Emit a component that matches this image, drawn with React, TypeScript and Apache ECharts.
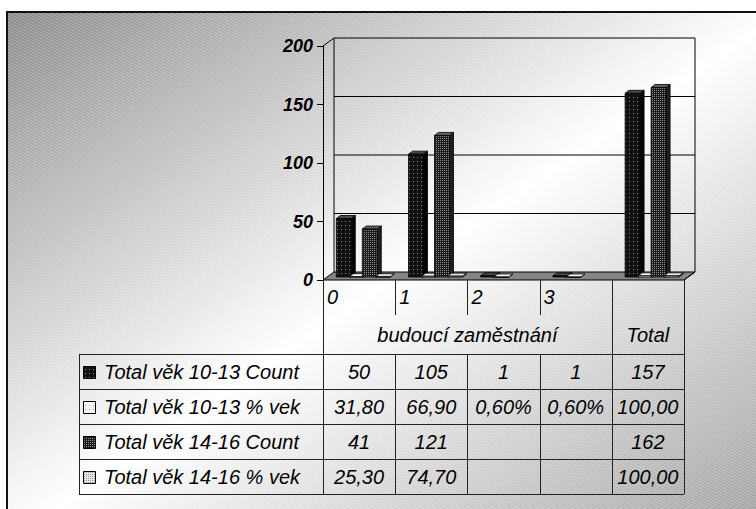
import React, { useEffect, useRef } from "react";
import * as echarts from "echarts";

// ---------- data ----------
const categories = ["0", "1", "2", "3", "Total"];
const groupLabel = "budoucí zaměstnání";
const seriesNames = [
  "Total věk 10-13 Count",
  "Total věk 10-13 % vek",
  "Total věk 14-16 Count",
  "Total věk 14-16 % vek",
];
const count1013 = [50, 105, 1, 1, 157];
const pct1013 = [0.318, 0.669, 0.006, 0.006, 1.0];
const count1416 = [41, 121, null, null, 162];
const pct1416 = [0.253, 0.747, null, null, 1.0];
const count1013Labels = ["50", "105", "1", "1", "157"];
const pct1013Labels = ["31,80", "66,90", "0,60%", "0,60%", "100,00"];
const count1416Labels = ["41", "121", "", "", "162"];
const pct1416Labels = ["25,30", "74,70", "", "", "100,00"];
const yTicks = [0, 50, 100, 150, 200];

// ---------- layout / style ----------
const W = 756;
const H = 509;
const GRID_LEFT = 323;
const GRID_TOP = 46;
const GRID_W = 361;
const GRID_H = 234;
const GRID_RIGHT = GRID_LEFT + GRID_W;
const FLOOR_Y = GRID_TOP + GRID_H;
const DX = 11;
const DY = -8;
const BAR_W = 15;
const BAR_DX = 4;
const BAR_DY = -3;
const BAR_SHIFT_Y = -3;
const SLOT_OFFSETS = [13.3, 26.3, 39.3, 52.3];
const TABLE_LEFT = 79;
const TABLE_TOP = 354;
const ROW_H = 35;
const HEADER_SPLIT = 315;
const FONT = '"Liberation Sans", Arial, sans-serif';

type PatDef = { bg: string; fg: string; size: number; dots: number[][] };
const patternDefs: PatDef[] = [
  { bg: "#111111", fg: "#8a8a8a", size: 4, dots: [[1, 1]] },
  { bg: "#f4f4f4", fg: "#9a9a9a", size: 4, dots: [[1, 1]] },
  { bg: "#1c1c1c", fg: "#8c8c8c", size: 2, dots: [[0, 0]] },
  { bg: "#e6e6e6", fg: "#9a9a9a", size: 2, dots: [[0, 0]] },
];
const barStyles = [
  { front: "#1e1e1e", top: "#4a4a4a", side: "#050505" },
  { front: "#ececec", top: "#f6f6f6", side: "#bdbdbd" },
  { front: "#3b3b3b", top: "#626262", side: "#1e1e1e" },
  { front: "#d6d6d6", top: "#e8e8e8", side: "#a8a8a8" },
];

const seriesValues = [count1013, pct1013, count1416, pct1416];
const rowLabels = [count1013Labels, pct1013Labels, count1416Labels, pct1416Labels];

function makePattern(def: PatDef): any {
  const c = document.createElement("canvas");
  c.width = def.size;
  c.height = def.size;
  const ctx = c.getContext("2d");
  if (!ctx) return def.bg;
  ctx.fillStyle = def.bg;
  ctx.fillRect(0, 0, def.size, def.size);
  ctx.fillStyle = def.fg;
  def.dots.forEach(([x, y]) => ctx.fillRect(x, y, 1, 1));
  return { image: c, repeat: "repeat", imageWidth: def.size, imageHeight: def.size };
}

function makeHatch(): any {
  const c = document.createElement("canvas");
  c.width = 6;
  c.height = 3;
  const ctx = c.getContext("2d");
  if (!ctx) return "rgba(255,255,255,0)";
  ctx.fillStyle = "rgba(255,255,255,0.22)";
  [[0, 0], [1, 0], [2, 1], [3, 1], [4, 2], [5, 2]].forEach(([x, y]) => ctx.fillRect(x, y, 1, 1));
  return { image: c, repeat: "repeat", imageWidth: 6, imageHeight: 3 };
}

export default function App() {
  const ref = useRef<HTMLDivElement>(null);

  useEffect(() => {
    if (!ref.current) return;
    const chart = echarts.init(ref.current, undefined, { renderer: "svg" });

    const patterns = patternDefs.map(makePattern);
    const colW = GRID_W / categories.length;
    const colX = categories.map((_, i) => GRID_LEFT + i * colW);
    const tableBottom = TABLE_TOP + ROW_H * seriesNames.length;
    const lineStyle = { stroke: "#222", lineWidth: 1 };
    const textBase = {
      fill: "#000",
      fontFamily: FONT,
      fontStyle: "italic",
      fontSize: 20,
    };

    const graphics: any[] = [];
    // background
    graphics.push({
      type: "rect",
      z: -100,
      shape: { x: 7, y: 12, width: W + 20, height: H + 20 },
      style: {
        fill: new echarts.graphic.LinearGradient(0, 0, 1, 1, [
          { offset: 0, color: "#8c8c8c" },
          { offset: 0.5, color: "#ffffff" },
          { offset: 1, color: "#9c9c9c" },
        ]),
        stroke: "#111",
        lineWidth: 2,
      },
    });
    graphics.push({
      type: "rect",
      z: -99,
      silent: true,
      shape: { x: 8, y: 13, width: W, height: H },
      style: { fill: makeHatch() },
    });

    const hline = (x1: number, x2: number, y: number) =>
      graphics.push({
        type: "line",
        z: 10,
        shape: { x1, y1: Math.round(y) + 0.5, x2, y2: Math.round(y) + 0.5 },
        style: lineStyle,
      });
    const vline = (x: number, y1: number, y2: number) =>
      graphics.push({
        type: "line",
        z: 10,
        shape: { x1: Math.round(x) + 0.5, y1, x2: Math.round(x) + 0.5, y2 },
        style: lineStyle,
      });

    // table grid
    for (let r = 0; r <= seriesNames.length; r++) {
      hline(TABLE_LEFT, GRID_RIGHT, TABLE_TOP + r * ROW_H);
    }
    vline(TABLE_LEFT, TABLE_TOP, tableBottom);
    vline(GRID_LEFT, FLOOR_Y, tableBottom);
    vline(colX[4], FLOOR_Y, tableBottom);
    vline(GRID_RIGHT, FLOOR_Y, tableBottom);
    for (let i = 1; i < 4; i++) {
      vline(colX[i], FLOOR_Y, HEADER_SPLIT);
      vline(colX[i], TABLE_TOP, tableBottom);
    }

    // header texts
    for (let i = 0; i < 4; i++) {
      graphics.push({
        type: "text",
        z: 11,
        style: {
          ...textBase,
          text: categories[i],
          x: colX[i] + 4,
          y: 297,
          align: "left",
          verticalAlign: "middle",
        },
      });
    }
    const headerY = (HEADER_SPLIT + TABLE_TOP) / 2;
    graphics.push({
      type: "text",
      z: 11,
      style: {
        ...textBase,
        text: groupLabel,
        x: (colX[0] + colX[4]) / 2,
        y: headerY,
        align: "center",
        verticalAlign: "middle",
      },
    });
    graphics.push({
      type: "text",
      z: 11,
      style: {
        ...textBase,
        text: categories[4],
        x: (colX[4] + GRID_RIGHT) / 2,
        y: headerY,
        align: "center",
        verticalAlign: "middle",
      },
    });

    // rows
    seriesNames.forEach((name, r) => {
      const cy = TABLE_TOP + ROW_H * (r + 0.5);
      graphics.push({
        type: "rect",
        z: 11,
        shape: { x: 83.5, y: Math.round(cy - 6) + 0.5, width: 12, height: 12 },
        style: { fill: patterns[r], stroke: "#000", lineWidth: 1 },
      });
      graphics.push({
        type: "text",
        z: 11,
        style: {
          ...textBase,
          text: name,
          x: 104,
          y: cy,
          align: "left",
          verticalAlign: "middle",
        },
      });
      rowLabels[r].forEach((lab, i) => {
        if (!lab) return;
        graphics.push({
          type: "text",
          z: 11,
          style: {
            ...textBase,
            text: lab,
            x: colX[i] + colW / 2,
            y: cy,
            align: "center",
            verticalAlign: "middle",
          },
        });
      });
    });

    const wallsSeries = {
      type: "custom",
      clip: false,
      silent: true,
      data: [[0, 0]],
      encode: { x: 0, y: 1 },
      renderItem: (params: any, api: any) => {
        const cs = params.coordSys;
        const x = cs.x;
        const y = cs.y;
        const w = cs.width;
        const h = cs.height;
        const children: any[] = [];
        children.push({
          type: "polygon",
          shape: {
            points: [
              [x, y + h],
              [x + w, y + h],
              [x + w + DX, y + h + DY],
              [x + DX, y + h + DY],
            ],
          },
          style: { fill: "#858585", stroke: "#000", lineWidth: 1 },
        });
        yTicks.forEach((t) => {
          if (t === 0) return;
          const yy = api.coord([0, t])[1] + DY;
          children.push({
            type: "line",
            shape: { x1: x + DX, y1: yy, x2: x + w + DX, y2: yy },
            style: { stroke: "#000", lineWidth: 1 },
          });
        });
        children.push({
          type: "line",
          shape: { x1: x + DX, y1: y + DY, x2: x + DX, y2: y + h + DY },
          style: { stroke: "#000", lineWidth: 1 },
        });
        children.push({
          type: "line",
          shape: { x1: x + w + DX, y1: y + DY, x2: x + w + DX, y2: y + h + DY },
          style: { stroke: "#000", lineWidth: 1 },
        });
        children.push({
          type: "line",
          shape: { x1: x, y1: y, x2: x + DX, y2: y + DY },
          style: { stroke: "#000", lineWidth: 1 },
        });
        children.push({
          type: "line",
          shape: { x1: x + w, y1: y + h, x2: x + w + DX, y2: y + h + DY },
          style: { stroke: "#000", lineWidth: 1 },
        });
        return { type: "group", children };
      },
    };

    const barSeries = seriesValues.map((vals, si) => ({
      type: "custom",
      name: seriesNames[si],
      clip: false,
      encode: { x: 0, y: 1 },
      data: vals
        .map((v, i) => (v == null ? null : [i, v]))
        .filter((d) => d !== null),
      renderItem: (params: any, api: any) => {
        const ci = api.value(0);
        const v = api.value(1);
        const base = api.coord([ci, 0]);
        const top = api.coord([ci, v]);
        const band = api.size([1, 0])[0];
        const x = base[0] - band / 2 + SLOT_OFFSETS[si];
        const yb = base[1] + BAR_SHIFT_Y;
        const yt = top[1] + BAR_SHIFT_Y;
        const st = barStyles[si];
        const sw = { stroke: "#000", lineWidth: 0.8 };
        return {
          type: "group",
          children: [
            {
              type: "polygon",
              shape: {
                points: [
                  [x + BAR_W, yb],
                  [x + BAR_W + BAR_DX, yb + BAR_DY],
                  [x + BAR_W + BAR_DX, yt + BAR_DY],
                  [x + BAR_W, yt],
                ],
              },
              style: { fill: st.side, ...sw },
            },
            {
              type: "polygon",
              shape: {
                points: [
                  [x, yt],
                  [x + BAR_W, yt],
                  [x + BAR_W + BAR_DX, yt + BAR_DY],
                  [x + BAR_DX, yt + BAR_DY],
                ],
              },
              style: { fill: st.top, ...sw },
            },
            {
              type: "rect",
              shape: { x, y: yt, width: BAR_W, height: Math.max(yb - yt, 0.5) },
              style: { fill: patterns[si], ...sw },
            },
          ],
        };
      },
    }));

    const option: any = {
      animation: false,
      grid: {
        left: GRID_LEFT,
        top: GRID_TOP,
        width: GRID_W,
        height: GRID_H,
        containLabel: false,
      },
      xAxis: {
        type: "category",
        data: categories,
        boundaryGap: true,
        axisLine: { show: false },
        axisTick: { show: false },
        axisLabel: { show: false },
        splitLine: { show: false },
      },
      yAxis: {
        type: "value",
        min: 0,
        max: 200,
        interval: 50,
        axisLine: { show: true, lineStyle: { color: "#000", width: 1 } },
        axisTick: { show: true, length: 6, lineStyle: { color: "#000" } },
        splitLine: { show: false },
        axisLabel: {
          margin: 10,
          color: "#000",
          fontFamily: FONT,
          fontStyle: "italic",
          fontWeight: "bold",
          fontSize: 18,
        },
      },
      graphic: { elements: graphics },
      series: [wallsSeries, ...barSeries],
    };

    chart.setOption(option);
    return () => chart.dispose();
  }, []);

  return (
    <div
      ref={ref}
      style={{
        position: "absolute",
        left: 0,
        top: 0,
        width: W,
        height: H,
        background: "#fff",
      }}
    />
  );
}
